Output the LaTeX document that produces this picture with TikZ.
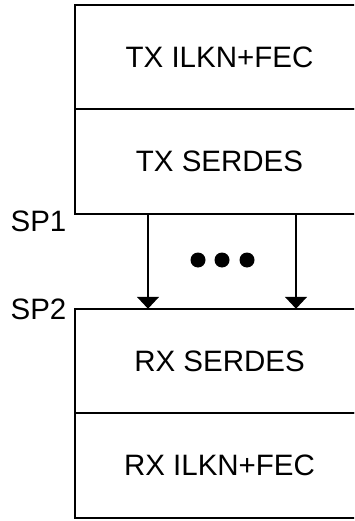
\documentclass[tikz,border=0pt]{standalone}
\usepackage{fontspec}
\setmainfont{Liberation Sans}
\usetikzlibrary{arrows.meta, positioning}
\tikzset{
    block/.style={rectangle, draw=black, line width=2pt, minimum width=290pt, minimum height=104.5pt, inner sep=0pt, outer sep=0pt, text centered, font=\fontsize{29.5}{35}\selectfont},
    plabel/.style={font=\fontsize{29.5}{35}\selectfont, inner sep=0pt},
    arrow/.style={line width=2pt, -{Triangle[width=22pt,length=12pt]}}
}

\begin{document}
\begin{tikzpicture}[x=1pt, y=-1pt]
    \clip (0,0) rectangle (354,521);
    % TX side
    \node (txfec) [block] at (219.5,57) {TX ILKN+FEC};
    \node (txser) [block, below=0pt of txfec] {TX SERDES};
    
    % RX side
    \node (rxser) [block, below=95pt of txser] {RX SERDES};
    \node (rxfec) [block, below=0pt of rxser] {RX ILKN+FEC};
    
    % Points
    \node (sp1) [plabel] at (38.5,221) {SP1};
    \node (sp2) [plabel] at (38.5,309) {SP2};
    
    % Lanes
    \draw [arrow] ([xshift=73.5pt]txser.south west) -- ([xshift=73.5pt]rxser.north west);
    \draw [arrow] ([xshift=221.5pt]txser.south west) -- ([xshift=221.5pt]rxser.north west);
    \foreach \x in {198,222,247}
        \fill (\x,260) circle (7.5);
\end{tikzpicture}
\end{document}
